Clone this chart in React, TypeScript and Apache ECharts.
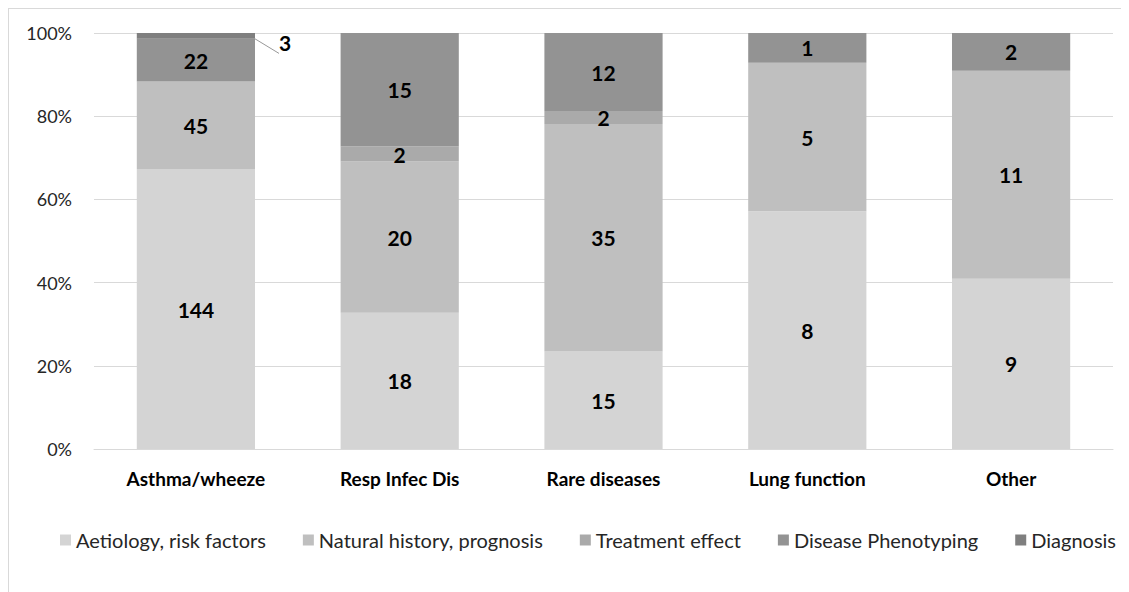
import React, { useEffect, useRef } from "react";
import * as echarts from "echarts";

const categories = ["Asthma/wheeze", "Resp Infec Dis", "Rare diseases", "Lung function", "Other"];
const seriesNames = [
  "Aetiology, risk factors",
  "Natural history, prognosis",
  "Treatment effect",
  "Disease Phenotyping",
  "Diagnosis",
];
const aetiology = [144, 18, 15, 8, 9];
const naturalHistory = [45, 20, 35, 5, 11];
const treatment = [0, 2, 2, 0, 0];
const phenotyping = [22, 15, 12, 1, 2];
const diagnosis = [3, 0, 0, 0, 0];
const yTicks = [0, 20, 40, 60, 80, 100];

const colors = ["#d4d4d4", "#bfbfbf", "#aaaaaa", "#939393", "#7f7f7f"];

export default function App() {
  const ref = useRef<HTMLDivElement>(null);
  useEffect(() => {
    if (!ref.current) return;
    const chart = echarts.init(ref.current, null, { renderer: "svg" });
    const raw = [aetiology, naturalHistory, treatment, phenotyping, diagnosis];
    const totals = categories.map((_, i) => raw.reduce((s, arr) => s + arr[i], 0));
    const font = "Lato, 'Open Sans', sans-serif";
    const series = raw.map((arr, si) => ({
      name: seriesNames[si],
      type: "bar",
      stack: "total",
      barWidth: "58%",
      itemStyle: { color: colors[si] },
      data: arr.map((v, i) => ({
        value: (v / totals[i]) * 100,
        raw: v,
        label:
          si === 4
            ? { show: v > 0, position: "right", distance: 4, offset: [20, 7] }
            : { show: v > 0 },
      })),
      label: {
        show: true,
        formatter: (p: any) => (p.data.raw > 0 ? String(p.data.raw) : ""),
        color: "#000",
        fontSize: 21,
        fontWeight: "bold",
        fontFamily: font,
      },
      labelLine:
        si === 4
          ? { show: true, lineStyle: { color: "#999", width: 1 } }
          : undefined,
    }));
    chart.setOption({
      animation: false,
      color: colors,
      grid: { left: 85, right: 16, top: 24, bottom: 143 },
      legend: {
        data: seriesNames,
        top: 516,
        left: 46,
        itemWidth: 11,
        itemHeight: 11,
        itemGap: 37,
        icon: "rect",
        textStyle: { fontSize: 20, color: "#262626", fontFamily: font },
      },
      xAxis: {
        type: "category",
        data: categories,
        axisTick: { show: false },
        axisLine: { lineStyle: { color: "#d9d9d9" } },
        axisLabel: {
          color: "#000",
          fontSize: 19,
          fontWeight: "bold",
          margin: 20,
          fontFamily: font,
        },
      },
      yAxis: {
        type: "value",
        min: 0,
        max: 100,
        interval: 20,
        axisLine: { show: false },
        axisTick: { show: false },
        splitLine: { lineStyle: { color: "#d9d9d9" } },
        axisLabel: {
          color: "#262626",
          fontSize: 18,
          margin: 22,
          fontFamily: font,
          formatter: (v: number) => (yTicks.includes(v) ? v + "%" : ""),
        },
      },
      series,
    });
    return () => chart.dispose();
  }, []);
  return (
    <div
      ref={ref}
      style={{
        width: 1121,
        height: 584,
        boxSizing: "border-box",
        borderLeft: "1px solid #d9d9d9",
        borderTop: "1px solid #d9d9d9",
      }}
    />
  );
}
